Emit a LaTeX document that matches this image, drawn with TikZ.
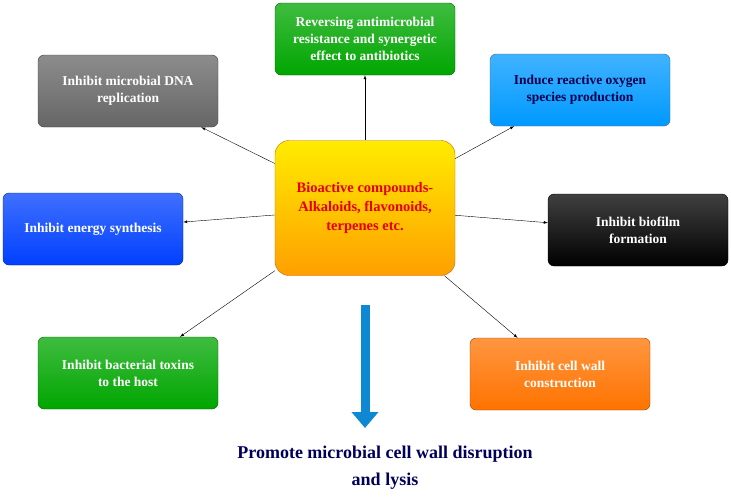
\documentclass[tikz,border=0pt]{standalone}
\usepackage{fontspec}
\setmainfont{Liberation Serif}
\usetikzlibrary{arrows.meta}
\tikzset{>=latex}
\tikzset{
  effect/.style={rounded corners=6pt,minimum width=180pt,minimum height=72pt,
                 align=center,text=white,font=\bfseries\fontsize{13.5}{17}\selectfont,
                 draw=#1!60!black,top color=#1!75!white,bottom color=#1,shading angle=0},
  link/.style={->,thin,black}
}
\begin{document}
\begin{tikzpicture}[x=1pt,y=-1pt]
  \useasboundingbox (0,0) rectangle (731,496);
  % CENTRE
  \node[rounded corners=14pt,minimum width=180pt,minimum height=135pt,align=center,
        top color=yellow!85!orange,bottom color=orange!75!yellow,draw=orange!80!black,
        text=red!90!black,font=\bfseries\fontsize{14.5}{19}\selectfont]
        (core) at (365,208) {Bioactive compounds-\\Alkaloids, flavonoids,\\terpenes etc.};
  % EFFECTS
  \node[effect={green!65!black}] (amr) at (365,39) {Reversing antimicrobial\\resistance and synergetic\\effect to antibiotics};
  \node[effect={gray!80!black}] (dna) at (128,91) {Inhibit microbial DNA\\replication};
  \node[effect={cyan!60!blue}] (ros) at (580,90) {\textcolor{blue!30!black}{Induce reactive oxygen}\\\textcolor{blue!30!black}{species production}};
  \node[effect={blue!75!cyan}] (energy) at (93,229) {Inhibit energy synthesis};
  \node[effect={black}] (biofilm) at (638,230) {Inhibit biofilm\\formation};
  \node[effect={green!65!black}] (toxin) at (128,373) {Inhibit bacterial toxins\\to the host};
  \node[effect={orange!90!red}] (wall) at (560,374) {Inhibit cell wall\\construction};
  % LINKS
  \draw[link] (core.north) -- (amr.south);
  \draw[link] (core) -- (dna);
  \draw[link] (core) -- (ros);
  \draw[link] (core) -- (energy);
  \draw[link] (core) -- (biofilm);
  \draw[link] (core) -- (toxin);
  \draw[link] (core) -- (wall);
  % RESULT
  \node[text=blue!35!black,align=center,font=\bfseries\fontsize{18}{27}\selectfont]
        (lysis) at (385,468) {Promote microbial cell wall disruption\\and lysis};
  \draw[line width=9pt,cyan!70!blue,-{Triangle[length=16pt,width=26pt]}] (365,305) -- (365,428);
\end{tikzpicture}
\end{document}
